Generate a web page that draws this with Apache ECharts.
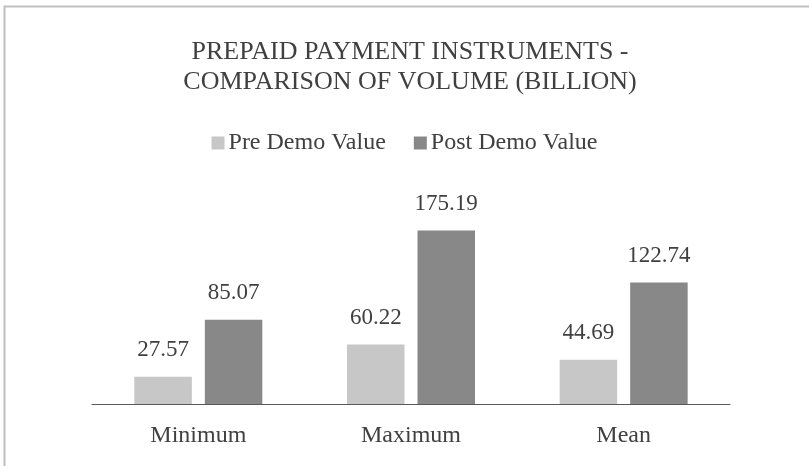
<!DOCTYPE html>
<html>
<head>
<meta charset="utf-8">
<title>Prepaid Payment Instruments</title>
<script src="https://cdn.jsdelivr.net/npm/echarts@6/dist/echarts.min.js"></script>
<style>
  html, body { margin: 0; padding: 0; background: #fff; }
  #chart { width: 809px; height: 466px; }
</style>
</head>
<body>
<div id="chart"></div>
<script>
// data
var categories = ['Minimum', 'Maximum', 'Mean'];
var preDemo = [27.57, 60.22, 44.69];
var postDemo = [85.07, 175.19, 122.74];
var seriesNames = ['Pre Demo Value', 'Post Demo Value'];

var FONT = '"Liberation Serif", "Times New Roman", serif';
var TXT = '#404040';

var chart = echarts.init(document.getElementById('chart'));

var labelStyle = {
    show: true,
    position: 'top',
    distance: 15,
    color: TXT,
    fontFamily: FONT,
    fontSize: 23,
    formatter: function (p) { return p.value.toFixed(2); }
};

var option = {
    animation: false,
    backgroundColor: '#fff',
    graphic: [{
        // outer frame, only top and left edges fall inside the picture
        type: 'rect',
        shape: { x: 4.5, y: 6.5, width: 1000, height: 1000 },
        style: { fill: 'none', stroke: '#bfbfbf', lineWidth: 2 },
        silent: true
    }],
    title: {
        text: 'PREPAID PAYMENT INSTRUMENTS -\nCOMPARISON OF VOLUME (BILLION)',
        left: 410,
        top: 37,
        textAlign: 'center',
        padding: 0,
        textStyle: {
            fontFamily: FONT,
            fontSize: 26,
            fontWeight: 'normal',
            lineHeight: 30,
            color: TXT
        }
    },
    legend: {
        data: seriesNames,
        left: 'center',
        top: 126,
        itemWidth: 13,
        itemHeight: 13,
        itemGap: 28,
        icon: 'rect',
        textStyle: {
            fontFamily: FONT,
            fontSize: 24,
            color: TXT,
            padding: [0, 0, 0, -1]
        }
    },
    grid: {
        left: 92,
        right: 79,
        top: 206,
        bottom: 62
    },
    xAxis: {
        type: 'category',
        data: categories,
        axisLine: { lineStyle: { color: '#595959', width: 1 } },
        axisTick: { show: false },
        axisLabel: {
            margin: 20,
            color: TXT,
            fontFamily: FONT,
            fontSize: 24
        }
    },
    yAxis: {
        type: 'value',
        min: 0,
        max: 200,
        show: false,
        splitLine: { show: false }
    },
    series: [{
        name: seriesNames[0],
        type: 'bar',
        data: preDemo,
        barWidth: 57.5,
        barGap: '22.6%',
        itemStyle: { color: '#c6c7c6' },
        label: labelStyle
    }, {
        name: seriesNames[1],
        type: 'bar',
        data: postDemo,
        barWidth: 57.5,
        itemStyle: { color: '#888888' },
        label: labelStyle
    }]
};

chart.setOption(option);
</script>
</body>
</html>
